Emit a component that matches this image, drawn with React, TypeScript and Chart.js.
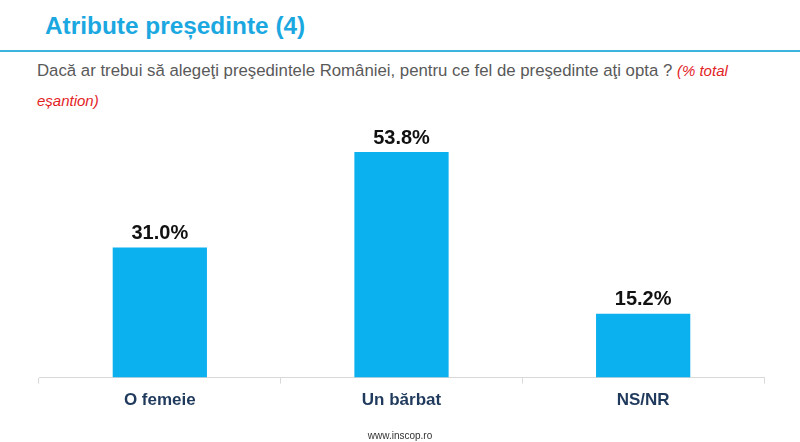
import React, { useEffect, useRef } from 'react';
import { Chart, registerables } from 'chart.js';

Chart.register(...registerables);

const categories = ['O femeie', 'Un bărbat', 'NS/NR'];
const values = [31.0, 53.8, 15.2];

const barLabels = {
    id: 'barLabels',
    afterDatasetsDraw(chart: any) {
        const ctx = chart.ctx;
        const meta = chart.getDatasetMeta(0);
        ctx.save();
        ctx.font = 'bold 20px "Liberation Sans", Arial, sans-serif';
        ctx.fillStyle = '#111111';
        ctx.textAlign = 'center';
        ctx.textBaseline = 'bottom';
        meta.data.forEach((bar: any, i: number) => {
            ctx.fillText(values[i].toFixed(1) + '%', bar.x, bar.y - 4);
        });
        ctx.restore();
    }
};

export default function App() {
    const canvasRef = useRef<HTMLCanvasElement | null>(null);
    const chartRef = useRef<Chart<"bar"> | null>(null);

    useEffect(() => {
        if (!canvasRef.current) return;
        if (chartRef.current) chartRef.current.destroy();

        chartRef.current = new Chart(canvasRef.current, {
            type: 'bar',
            data: {
                labels: categories,
                datasets: [{
                    data: values,
                    backgroundColor: '#0bb0ef',
                    barPercentage: 0.78,
                    categoryPercentage: 0.5
                }]
            },
            options: {
                animation: false,
                responsive: false,
                layout: { padding: { top: 126, left: 39, right: 36, bottom: 24 } },
                plugins: {
                    legend: { display: false },
                    tooltip: { enabled: false }
                },
                scales: {
                    x: {
                        border: { color: '#d9d9d9', width: 1 },
                        grid: {
                            drawOnChartArea: false,
                            drawTicks: true,
                            tickLength: 6,
                            color: '#d9d9d9'
                        },
                        ticks: {
                            padding: 7,
                            color: '#1f3a5c',
                            font: { family: '"Liberation Sans", Arial, sans-serif', size: 17, weight: 'bold' }
                        }
                    },
                    y: { display: false, min: 0, max: 60 }
                }
            },
            plugins: [barLabels]
        });

        return () => {
            if (chartRef.current) {
                chartRef.current.destroy();
                chartRef.current = null;
            }
        };
    }, []);

    return (
        <div style={{ position: 'fixed', left: 0, top: 0, width: 800, height: 442, background: '#fff', fontFamily: '"Liberation Sans", Arial, sans-serif' }}>
            <div style={{ position: 'absolute', left: 45, top: 12, fontSize: 24.4, fontWeight: 'bold', color: '#1ba8e1' }}>
                Atribute președinte (4)
            </div>
            <div style={{ position: 'absolute', left: 0, top: 50, width: 800, height: 2, background: '#3db4dd' }} />
            <div style={{ position: 'absolute', left: 37, top: 61, fontSize: 16.8, color: '#595959', whiteSpace: 'nowrap' }}>
                Dacă ar trebui să alegeţi preşedintele României, pentru ce fel de preşedinte aţi opta ?{' '}
                <span style={{ color: '#e3231f', fontStyle: 'italic', fontSize: 15 }}>(% total</span>
            </div>
            <div style={{ position: 'absolute', left: 37, top: 92, fontSize: 15, color: '#e3231f', fontStyle: 'italic' }}>
                eșantion)
            </div>
            <canvas ref={canvasRef} width={800} height={442} style={{ position: 'absolute', left: 0, top: 0 }} />
            <div style={{ position: 'absolute', left: 0, top: 430, width: 800, textAlign: 'center', fontSize: 10, color: '#333' }}>
                www.inscop.ro
            </div>
        </div>
    );
}
